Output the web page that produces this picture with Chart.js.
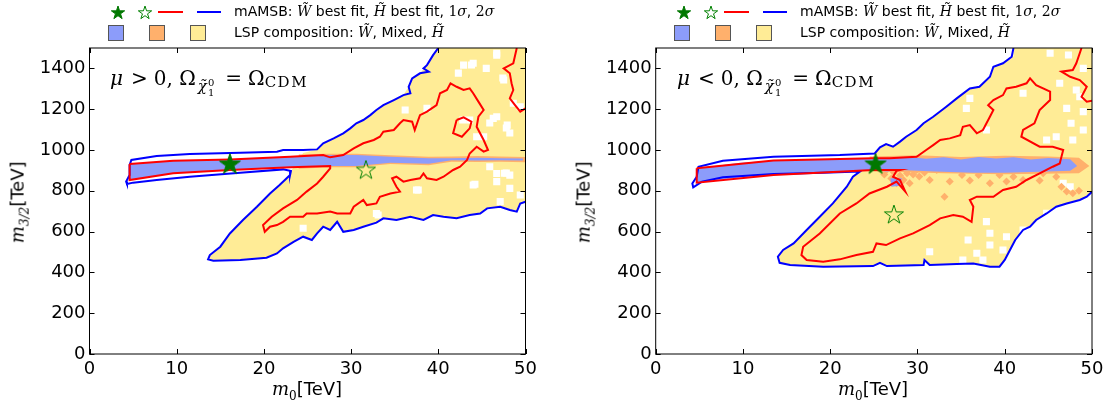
<!DOCTYPE html>
<html>
<head>
<meta charset="utf-8">
<script src="https://cdn.jsdelivr.net/npm/chart.js@4.4.1/dist/chart.umd.min.js"></script>
<style>
body { margin: 0; background: #fff; }
#page { position: relative; width: 1110px; height: 405px; overflow: hidden; font-family: 'DejaVu Sans'; }
canvas { position: absolute; top: 0; }
.txt { position: absolute; white-space: nowrap; color: #000; }
.m { font-family: 'DejaVu Serif'; font-style: italic; }
.r { font-family: 'DejaVu Serif'; }
.leg { font-size: 14px; line-height: 18px; }
.sq { position: absolute; width: 14px; height: 14px; border: 1px solid #555; }
.ln { position: absolute; height: 2px; }
.ann { font-family: 'DejaVu Serif'; font-size: 20px; line-height: 26px; }
.ann .rel { margin: 0 6px 0 8px; }
.ann .chi { display: inline-block; vertical-align: -6px; font-size: 15px; font-style: italic; margin-left: 2px; }
.ann .idx { display: inline-block; vertical-align: -11px; font-size: 10px; line-height: 10px; margin-left: 1px; }
.ann .cdm { font-size: 15px; letter-spacing: 1.5px; vertical-align: -2px; }
.axt { font-size: 18px; line-height: 22px; }
</style>
</head>
<body>
<div id="page">
  <canvas id="pos" width="555" height="405" style="left:0"></canvas>
  <canvas id="neg" width="555" height="405" style="left:555px"></canvas>

  <div class="txt ann" style="left:110px;top:65px"><i>μ</i><span class="rel">&gt;</span>0, Ω<span class="chi">χ̃</span><span class="idx">0<br>1</span><span class="rel" style="margin-left:11px">=</span>Ω<span class="cdm">CDM</span></div>
  <div class="txt ann" style="left:677px;top:65px"><i>μ</i><span class="rel">&lt;</span>0, Ω<span class="chi">χ̃</span><span class="idx">0<br>1</span><span class="rel" style="margin-left:11px">=</span>Ω<span class="cdm">CDM</span></div>

  <div class="txt axt" id="xt1"><span class="m">m</span><sub class="r" style="font-size:12px">0</sub>[TeV]</div>
  <div class="txt axt" id="xt2"><span class="m">m</span><sub class="r" style="font-size:12px">0</sub>[TeV]</div>
  <div class="txt axt" id="yt1"><span class="m">m</span><sub class="m" style="font-size:12px">3/2</sub>[TeV]</div>
  <div class="txt axt" id="yt2"><span class="m">m</span><sub class="m" style="font-size:12px">3/2</sub>[TeV]</div>
</div>
<script>
// axes
const xTicks = [0, 10, 20, 30, 40, 50];
const yTicks = [0, 200, 400, 600, 800, 1000, 1200, 1400];

// mu > 0 panel  [m0 TeV, m3/2 TeV]
const posBand = [[4.6,931],[9.6,947],[16.1,954],[23.0,967],[26.8,975],[30.6,975],[34.5,967],[38.9,959],[41.5,960],[44.5,962],[47.0,960],[49.7,958],[49.7,948],[47.0,950],[44.5,949],[41.5,950],[38.9,932],[34.5,938],[30.6,922],[27.6,922],[23.0,915],[16.1,902],[9.6,886],[4.6,853]];
const posMixed = [[24.0,978],[27.0,982],[30.6,982],[34.5,974],[38.9,967],[41.5,968],[44.5,970],[47.0,968],[50,966],[50,940],[47.0,942],[44.5,941],[41.5,942],[38.9,925],[34.5,931],[30.6,915],[27.6,915],[24.0,908]];
const posHiggsino = [[40.0,1500],[39.4,1465],[38.7,1416],[37.9,1376],[37.0,1351],[36.6,1310],[36.0,1269],[34.9,1245],[33.7,1220],[32.9,1196],[32.2,1171],[31.4,1147],[30.6,1131],[29.9,1106],[29.1,1082],[28.0,1057],[26.8,1033],[26.1,1003],[24.5,985],[23.1,897],[23.0,877],[21.8,828],[20.7,787],[19.2,722],[17.6,657],[16.1,591],[15.0,526],[13.8,485],[13.6,464],[14.2,457],[17.3,461],[20.3,472],[21.5,493],[22.2,518],[23.4,550],[24.5,575],[25.5,559],[26.1,591],[26.8,624],[27.6,608],[28.4,648],[29.1,599],[30.3,608],[31.4,624],[32.9,644],[33.7,665],[35.2,657],[36.8,673],[38.3,657],[39.4,681],[40.6,673],[42.1,665],[43.6,681],[44.8,689],[45.6,714],[47.1,722],[48.2,706],[49.0,698],[49.4,738],[50,746],[50,1500]];
const posHoles = [[46.7,1474],[42.3,1377],[43.8,1417],[45.5,1400],[36.2,1196],[38.7,1204],[47.4,1353],[45.9,1132],[46.7,1163],[47.8,1108],[48.2,1083],[49.4,1212],[44.4,1065],[42.8,1147],[45.9,918],[47.8,887],[44.0,828],[37.7,804],[44.2,832],[46.7,845],[47.6,886],[48.2,812],[33.1,681],[24.5,616],[49.4,779],[47.1,747],[46.7,1465],[42.9,1416],[44.0,1425],[47.5,1343],[48.6,1229],[46.3,1155],[47.9,1122],[43.6,1147],[45.2,1065],[37.5,804],[46.7,885],[48.2,877],[32.9,689]];
const pos2sigma = [[40.0,1500],[39.4,1465],[38.7,1416],[38.3,1400],[38.9,1384],[37.9,1376],[37.0,1351],[36.6,1310],[36.8,1278],[36.0,1269],[34.9,1245],[33.7,1220],[32.9,1196],[32.2,1171],[31.4,1147],[30.6,1131],[29.9,1106],[29.1,1082],[28.0,1057],[26.8,1033],[26.1,1003],[24.5,1000],[22.2,1000],[21.5,992],[17.3,987],[11.5,980],[7.7,970],[4.8,951],[4.6,926],[4.6,877],[4.2,845],[4.3,833],[5.0,840],[7.7,853],[11.5,869],[17.3,889],[22.2,905],[23.1,897],[23.0,877],[21.8,828],[20.7,787],[19.2,722],[17.6,657],[16.1,591],[15.0,526],[13.8,485],[13.6,464],[14.2,457],[17.3,461],[20.3,472],[21.5,493],[22.2,518],[23.4,550],[24.5,575],[25.5,559],[26.1,591],[26.8,624],[27.6,608],[28.4,648],[29.1,599],[30.3,608],[31.4,624],[32.9,644],[33.7,665],[35.2,657],[36.8,673],[38.3,657],[39.4,681],[40.6,673],[42.1,665],[43.6,681],[44.8,689],[45.6,714],[47.1,722],[48.2,706],[49.0,698],[49.4,738],[50,746]];
const pos1sigma = [[4.6,931],[9.6,947],[16.1,954],[23.0,967],[26.8,975],[27.6,964],[29.1,975],[30.3,1008],[31.4,1033],[32.6,1049],[33.3,1065],[33.7,1090],[34.9,1098],[35.6,1131],[36.0,1147],[37.0,1139],[37.3,1098],[37.7,1147],[37.9,1171],[38.7,1188],[39.8,1220],[40.2,1278],[41.0,1294],[41.4,1327],[42.1,1310],[42.9,1294],[43.6,1302],[44.0,1278],[44.6,1237],[45.2,1196],[44.6,1163],[44.4,1114],[45.2,1049],[45.7,1000],[45.2,992],[44.4,1016],[43.6,983],[43.3,951],[42.5,918],[41.7,902],[40.6,869],[39.8,853],[38.7,861],[38.3,885],[37.9,861],[36.8,853],[36.0,845],[35.2,869],[34.7,861],[35.2,820],[35.6,796],[34.5,787],[33.3,771],[32.9,738],[31.8,730],[31.4,755],[30.3,722],[29.9,689],[28.4,689],[27.6,698],[26.1,689],[24.9,689],[24.5,673],[23.0,673],[22.2,648],[21.5,632],[20.7,624],[20.1,599],[19.9,632],[20.9,673],[22.2,714],[23.8,755],[24.9,796],[26.1,836],[26.8,869],[27.6,910],[27.6,922],[23.0,915],[16.1,902],[9.6,886],[4.6,853],[4.6,931]];
const pos1sigmaLoop = [[42.1,1147],[42.9,1160],[43.8,1139],[43.6,1106],[42.7,1065],[41.7,1082],[41.9,1114],[42.1,1147]];
const pos1sigmaEdge = [[49.0,1500],[48.6,1425],[47.5,1400],[48.2,1376],[48.4,1327],[48.6,1294],[48.2,1253],[48.8,1220],[49.4,1188],[50,1204]];
const posBestW = [[16.1,934]];
const posBestH = [[31.7,905]];

// mu < 0 panel
const negBand = [[4.7,910],[9.7,938],[13.5,948],[17.3,954],[24.9,960],[27.0,958],[29.0,966],[31.0,957],[33.0,964],[35.0,954],[37.0,966],[39.0,958],[41.0,964],[43.0,954],[45.0,961],[47.5,955],[48.3,921],[47.5,898],[44.0,893],[40.0,889],[36.4,889],[32.0,895],[28.0,902],[26.5,894],[24.9,902],[17.3,885],[13.5,877],[9.7,865],[4.7,840]];
const negBlob = [[26.9,862],[28.2,862],[28.0,825],[27.0,820]];
const negMixed = [[24.5,968],[30.0,974],[35.0,966],[40.0,972],[45.0,968],[48.5,962],[49.7,921],[48.5,886],[40.0,881],[33.0,886],[28.0,892],[25.0,893]];
const negMixedDots = [[33.7,845],[35.1,877],[37.0,877],[38.3,837],[39.4,877],[40.2,845],[41.4,918],[42.9,918],[44.4,886],[45.9,869],[47.1,796],[47.8,788],[33.1,771],[31.4,853],[29.9,902],[28.8,886],[28.4,853],[29.1,837],[27.6,837],[37.5,910],[33.7,910],[32.2,902],[42.1,853],[41.0,869],[26.5,905],[27.3,890],[28.0,875],[27.0,860],[29.5,880],[30.2,870],[26.2,880],[30.8,890],[36.0,850],[44.0,850],[46.5,820],[48.5,800]];
const negHiggsino = [[41.0,1500],[40.8,1457],[39.8,1425],[38.7,1408],[38.3,1359],[37.1,1310],[36.0,1302],[34.5,1253],[33.3,1212],[31.8,1163],[30.7,1131],[29.9,1098],[28.7,1065],[28.0,1041],[27.2,1016],[26.4,1029],[25.7,1013],[25.1,983],[24.9,960],[24.0,900],[23.4,894],[22.6,869],[21.9,820],[20.3,738],[18.8,673],[17.3,608],[15.8,542],[14.6,510],[14.0,477],[14.2,447],[15.4,436],[19.2,428],[24.9,431],[25.7,447],[26.5,431],[30.7,436],[30.8,461],[31.4,436],[34.5,441],[36.4,444],[38.3,428],[39.4,428],[40.0,461],[40.6,510],[41.2,559],[42.1,608],[42.9,624],[43.6,657],[44.8,689],[45.9,722],[47.1,738],[48.6,755],[49.4,771],[50,795],[50,1500]];
const negHoles = [[45.2,1474],[47.3,1466],[49.0,1400],[46.3,1327],[48.2,1294],[48.6,1261],[47.1,1204],[49.0,1188],[47.6,1131],[45.9,1065],[44.8,1049],[49.0,1098],[47.8,1049],[36.0,1253],[35.6,1204],[37.9,1098],[42.1,1278],[40.6,1474],[46.7,837],[47.5,820],[44.8,690],[37.9,649],[38.3,592],[35.8,559],[38.3,534],[40.2,575],[42.1,608],[39.8,510],[36.8,494],[31.4,501],[37.5,461],[35.2,461]];
const neg2sigma = [[41.0,1500],[40.8,1457],[39.8,1425],[38.7,1408],[38.3,1359],[37.1,1310],[36.0,1302],[34.5,1253],[33.3,1212],[31.8,1163],[30.7,1131],[29.9,1098],[28.7,1065],[28.0,1041],[27.2,1016],[26.4,1029],[25.7,1013],[25.1,983],[21.1,975],[13.5,967],[7.7,947],[4.9,918],[4.7,869],[4.2,836],[4.3,817],[5.3,845],[7.7,866],[13.5,882],[19.2,889],[23.4,894],[22.6,869],[21.9,820],[20.3,738],[18.8,673],[17.3,608],[15.8,542],[14.6,510],[14.0,477],[14.2,447],[15.4,436],[19.2,428],[24.9,431],[25.7,447],[26.5,431],[30.7,436],[30.8,461],[31.4,436],[34.5,441],[36.4,444],[38.3,428],[39.4,428],[40.0,461],[40.6,510],[41.2,559],[42.1,608],[42.9,624],[43.6,657],[44.8,689],[45.9,722],[47.1,738],[48.6,755],[49.4,771],[50,795]];
const neg1sigma = [[4.7,910],[13.5,948],[24.9,959],[26.8,959],[29.9,967],[31.0,1000],[31.8,1024],[32.6,1049],[33.7,1057],[34.9,1073],[35.2,1114],[36.0,1122],[36.8,1082],[37.5,1098],[38.3,1163],[38.7,1196],[38.1,1220],[38.7,1245],[39.8,1269],[40.2,1302],[41.3,1310],[42.5,1327],[42.9,1351],[43.6,1318],[45.2,1286],[45.2,1245],[44.0,1196],[43.4,1131],[42.1,1098],[41.9,1065],[44.0,1016],[45.5,1016],[46.7,1000],[46.3,934],[45.5,918],[44.0,885],[42.5,853],[41.3,820],[39.8,804],[38.7,771],[36.8,771],[36.0,755],[36.4,722],[36.2,648],[35.2,673],[34.1,681],[32.6,665],[31.4,632],[29.5,591],[28.0,567],[26.4,534],[25.3,542],[24.9,501],[23.0,485],[21.1,464],[19.2,452],[17.3,461],[16.7,485],[16.9,526],[18.8,591],[21.1,689],[23.0,738],[24.5,787],[26.5,820],[27.6,845],[28.6,796],[28.0,853],[27.2,869],[27.6,898],[28.0,902],[24.9,902],[13.5,877],[4.7,840],[4.7,910]];
const neg1sigmaEdge = [[48.8,1500],[48.2,1425],[47.8,1392],[46.5,1384],[47.5,1359],[48.6,1343],[49.4,1310],[48.8,1261],[49.4,1237],[50,1242]];
const negBestW = [[25.2,934]];
const negBestH = [[27.3,686]];

const BLUE = 'rgb(140,156,250)', ORANGE = 'rgb(255,176,108)', YELLOW = 'rgb(255,236,150)';

function pts(a) { return a.map(p => ({x: p[0], y: p[1]})); }
function area(a, color, order) {
  return {data: pts(a), showLine: true, fill: 'shape', backgroundColor: color, borderColor: 'transparent', borderWidth: 0, pointRadius: 0, order};
}
function contour(a, color, order) {
  return {data: pts(a), showLine: true, fill: false, borderColor: color, borderWidth: 2, pointRadius: 0, order};
}
function marks(a, style, radius, color, order) {
  return {data: pts(a), showLine: false, pointStyle: style, pointRadius: radius, backgroundColor: color, borderWidth: 0, order};
}
function starCanvas(r, fill, stroke, lw) {
  const c = document.createElement('canvas');
  const s = Math.ceil(2 * r + 4);
  c.width = s; c.height = s;
  const g = c.getContext('2d');
  g.beginPath();
  for (let i = 0; i < 10; i++) {
    const a = -Math.PI / 2 + i * Math.PI / 5;
    const rr = i % 2 ? r * 0.382 : r;
    g.lineTo(s / 2 + rr * Math.cos(a), s / 2 + 1 + rr * Math.sin(a));
  }
  g.closePath();
  if (fill) { g.fillStyle = fill; g.fill(); }
  if (stroke) { g.strokeStyle = stroke; g.lineWidth = lw; g.stroke(); }
  return c;
}
const fullStar = starCanvas(11, '#007800', '#007800', 1);
const openStar = starCanvas(10, null, '#008000', 1);

// box round the plot with inward ticks on all sides
const frame = {
  id: 'frame',
  afterDatasetsDraw(chart) {
    const {ctx, chartArea: a, scales: {x, y}} = chart;
    ctx.save();
    ctx.strokeStyle = '#000';
    ctx.lineWidth = 1;
    ctx.strokeRect(a.left, a.top, a.right - a.left, a.bottom - a.top);
    ctx.beginPath();
    xTicks.forEach(v => {
      const p = Math.round(x.getPixelForValue(v)) + 0.5;
      ctx.moveTo(p, a.bottom); ctx.lineTo(p, a.bottom - 5);
      ctx.moveTo(p, a.top); ctx.lineTo(p, a.top + 5);
    });
    yTicks.forEach(v => {
      const p = Math.round(y.getPixelForValue(v)) + 0.5;
      ctx.moveTo(a.left, p); ctx.lineTo(a.left + 5, p);
      ctx.moveTo(a.right, p); ctx.lineTo(a.right - 5, p);
    });
    ctx.stroke();
    ctx.restore();
  }
};

function panel(id, padRight, yWidth, datasets) {
  const tickFont = {family: 'DejaVu Sans', size: 18};
  return new Chart(document.getElementById(id), {
    type: 'scatter',
    data: {datasets},
    options: {
      responsive: false,
      animation: false,
      events: [],
      layout: {padding: {left: 0, top: 48, right: padRight, bottom: 0}},
      plugins: {legend: {display: false}, tooltip: {enabled: false}},
      scales: {
        x: {
          type: 'linear', min: 0, max: 50,
          afterBuildTicks: s => { s.ticks = xTicks.map(v => ({value: v})); },
          afterFit: s => { s.height = 51; },
          grid: {display: false, drawTicks: false},
          border: {display: false},
          ticks: {font: tickFont, color: '#000', padding: 5, maxRotation: 0, autoSkip: false, callback: v => String(v)}
        },
        y: {
          type: 'linear', min: 0, max: 1500,
          afterBuildTicks: s => { s.ticks = yTicks.map(v => ({value: v})); },
          afterFit: s => { s.width = yWidth; },
          grid: {display: false, drawTicks: false},
          border: {display: false},
          ticks: {font: tickFont, color: '#000', padding: 4, autoSkip: false, callback: v => String(v)}
        }
      }
    },
    plugins: [frame]
  });
}

panel('pos', 29.5, 89.5, [
  marks(posBestW, fullStar, 11, '#007800', 0),
  marks(posBestH, openStar, 10, '#008000', 0),
  contour(pos1sigma, '#ff0000', 1),
  contour(pos1sigmaLoop, '#ff0000', 1),
  contour(pos1sigmaEdge, '#ff0000', 1),
  contour(pos2sigma, '#0000ff', 1),
  marks(posHoles, 'rect', 5, '#ffffff', 3),
  area(posBand, BLUE, 4),
  area(posMixed, ORANGE, 5),
  area(posHiggsino, YELLOW, 6)
]);

panel('neg', 18, 100.7, [
  marks(negBestW, fullStar, 11, '#007800', 0),
  marks(negBestH, openStar, 10, '#008000', 0),
  contour(neg1sigma, '#ff0000', 1),
  contour(neg1sigmaEdge, '#ff0000', 1),
  contour(neg2sigma, '#0000ff', 1),
  area(negBand, BLUE, 3),
  area(negBlob, BLUE, 3),
  marks(negMixedDots, 'rectRot', 4, ORANGE, 4),
  area(negMixed, ORANGE, 5),
  marks(negHoles, 'rect', 5, '#ffffff', 6),
  area(negHiggsino, YELLOW, 7)
]);

// legends above each panel
function legend(dx) {
  const page = document.getElementById('page');
  const box = document.createElement('div');
  box.style.cssText = 'position:absolute;top:0;left:' + dx + 'px;width:520px;height:46px';
  const s1 = starCanvas(7, '#007800', '#007800', 1);
  s1.style.cssText = 'position:absolute;left:109px;top:3px';
  const s2 = starCanvas(7, null, '#008000', 1);
  s2.style.cssText = 'position:absolute;left:136px;top:3px';
  box.appendChild(s1);
  box.appendChild(s2);
  box.insertAdjacentHTML('beforeend',
    '<div class="ln" style="left:158px;top:11px;width:25px;background:#ff0000"></div>' +
    '<div class="ln" style="left:197px;top:11px;width:24px;background:#0000ff"></div>' +
    '<div class="txt leg" style="left:234px;top:2px">mAMSB: <span class="m">W̃</span> best fit, <span class="m">H̃</span> best fit, <span class="r">1</span><span class="m">σ</span>, <span class="r">2</span><span class="m">σ</span></div>' +
    '<div class="sq" style="left:108px;top:25px;background:' + BLUE + '"></div>' +
    '<div class="sq" style="left:149px;top:25px;background:' + ORANGE + '"></div>' +
    '<div class="sq" style="left:190px;top:25px;background:' + YELLOW + '"></div>' +
    '<div class="txt leg" style="left:234px;top:23px">LSP composition: <span class="m">W̃</span>, Mixed, <span class="m">H̃</span></div>');
  page.appendChild(box);
}
legend(0);
legend(566);

// axis titles centred on their spots
function place(id, cx, cy, rotate) {
  const el = document.getElementById(id);
  const w = el.offsetWidth, h = el.offsetHeight;
  el.style.left = (cx - w / 2) + 'px';
  el.style.top = (cy - h / 2) + 'px';
  if (rotate) el.style.transform = 'rotate(-90deg)';
}
place('xt1', 307, 392, false);
place('xt2', 873, 392, false);
place('yt1', 21, 202, true);
place('yt2', 587, 202, true);
</script>
</body>
</html>
